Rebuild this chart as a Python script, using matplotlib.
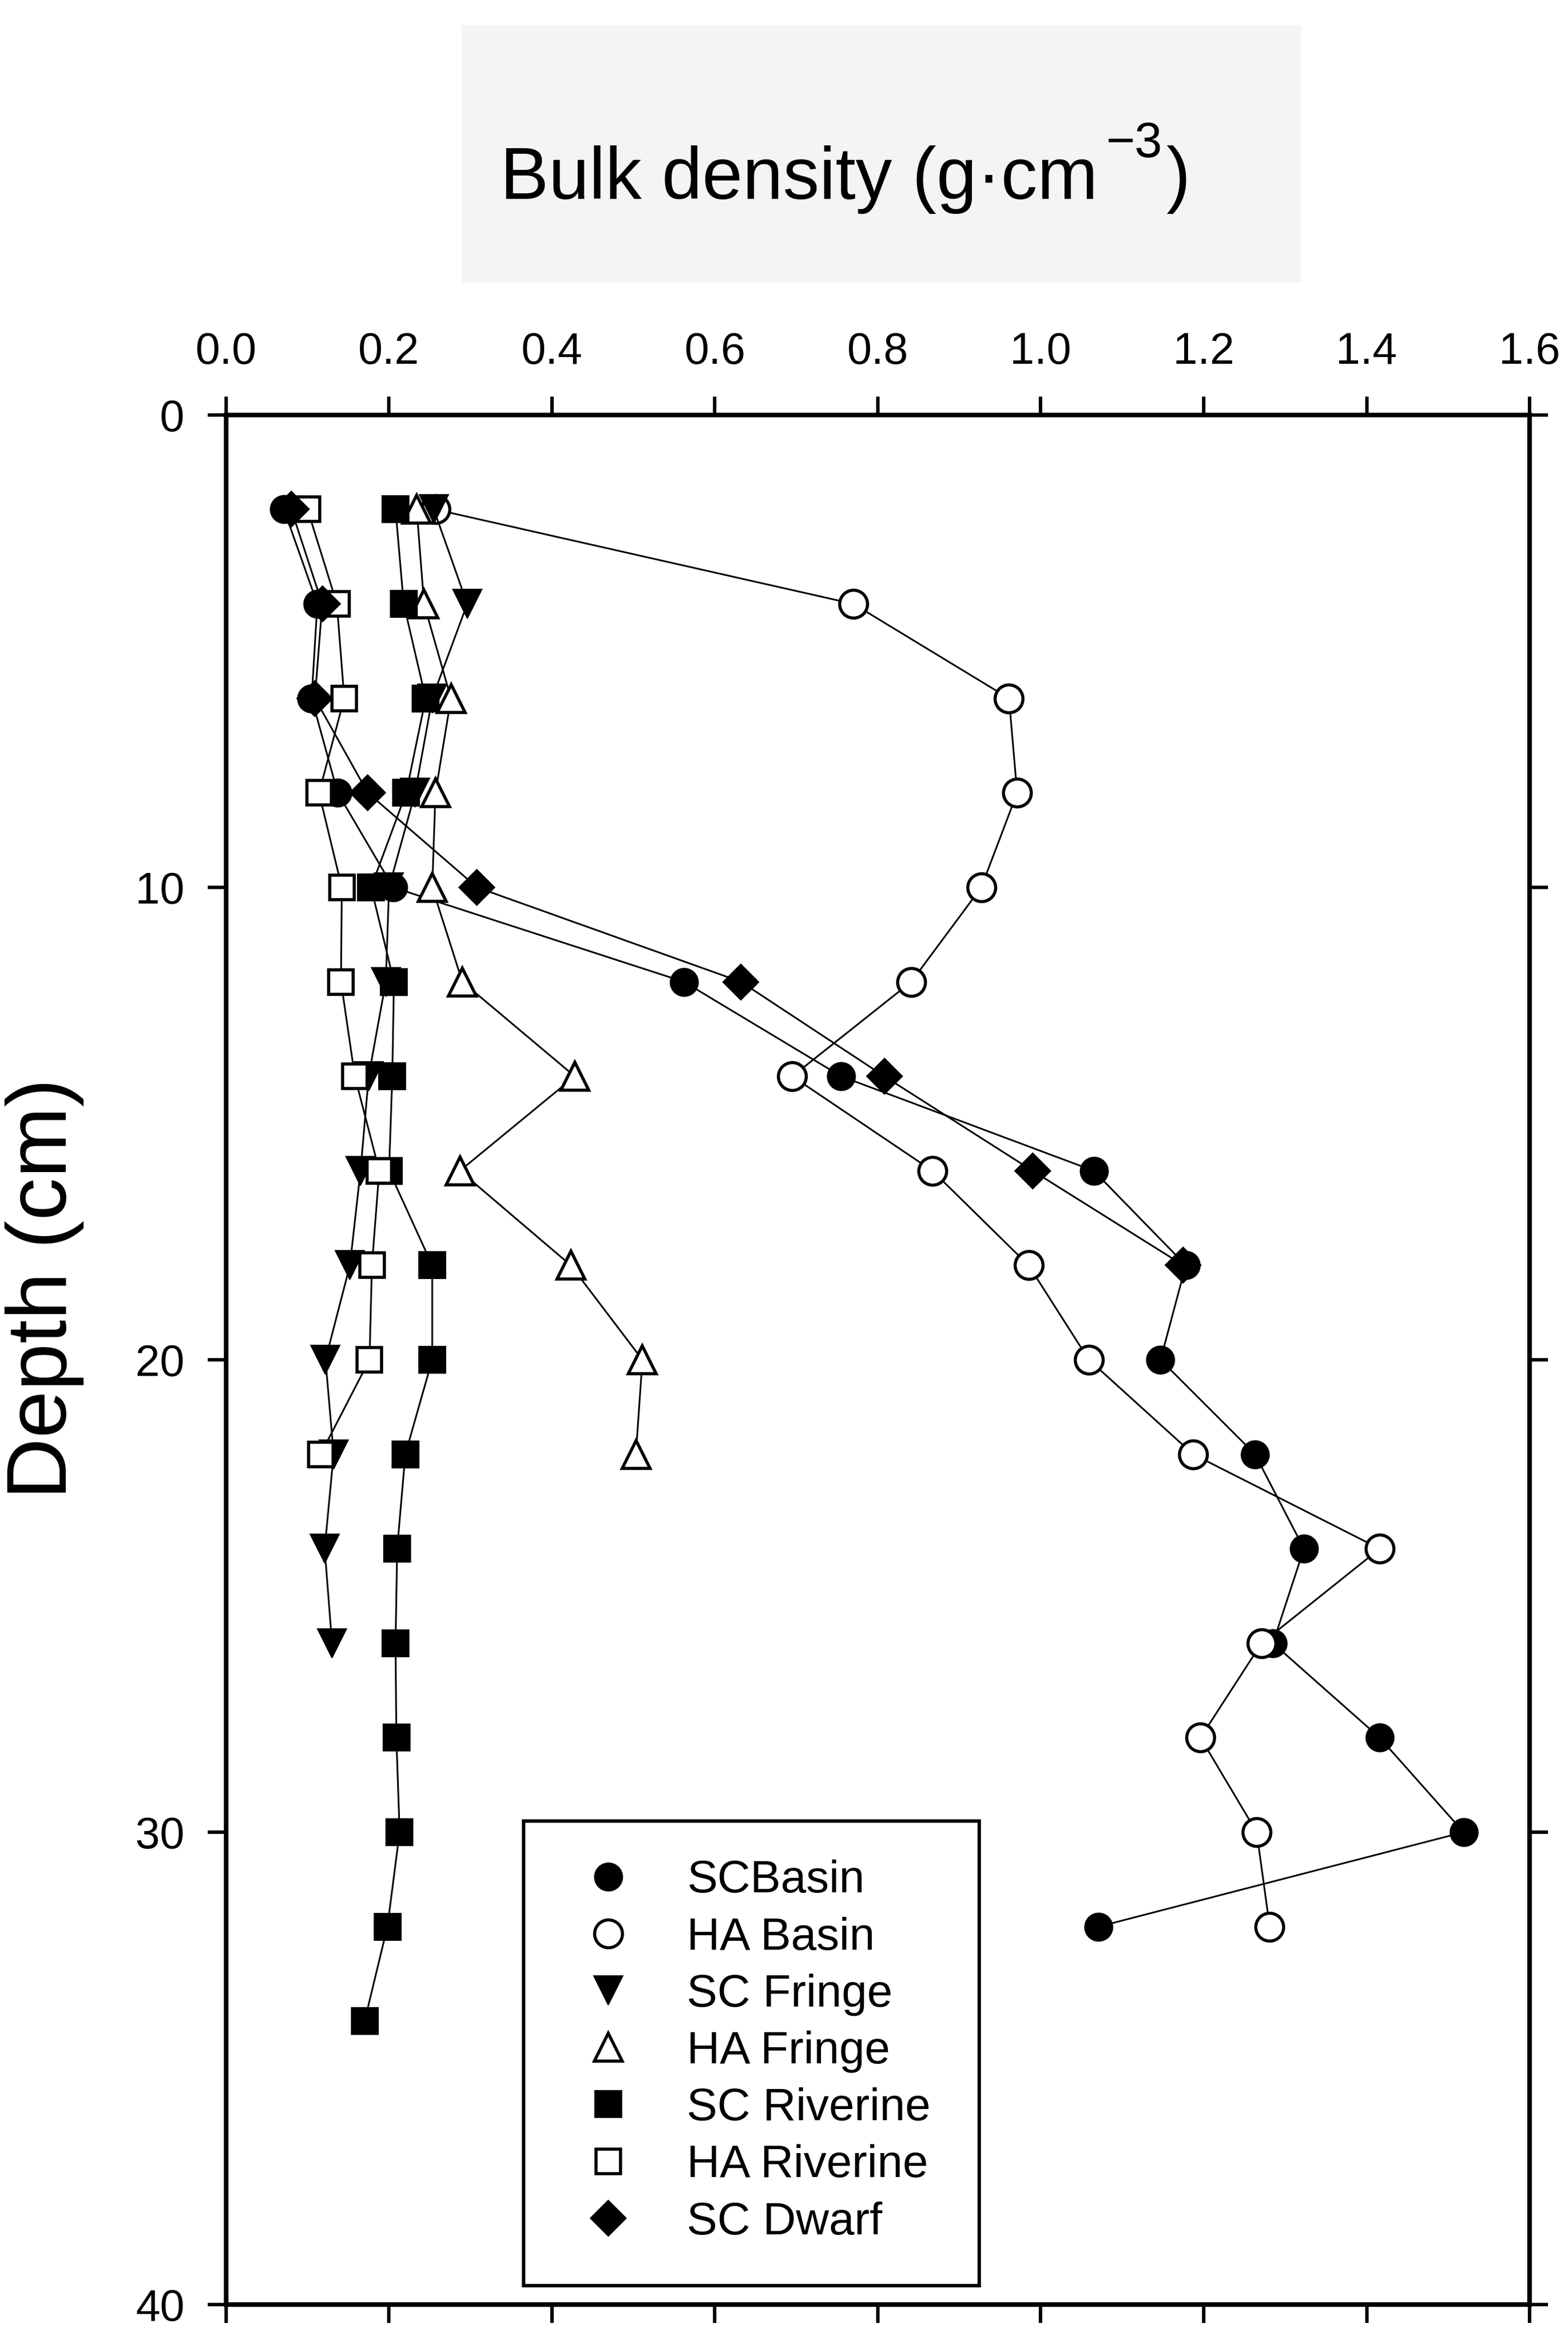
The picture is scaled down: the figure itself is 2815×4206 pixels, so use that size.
import matplotlib
matplotlib.use('Agg')
import matplotlib.pyplot as plt
from matplotlib.lines import Line2D
from matplotlib.patches import Rectangle

plt.rcParams['font.family'] = ['Liberation Sans', 'DejaVu Sans']

# depth of each sample (cm)
depth = [2, 4, 6, 8, 10, 12, 14, 16, 18, 20, 22, 24, 26, 28, 30, 32, 34]

# bulk density (g cm-3)
sc_basin = [0.071, 0.112, 0.105, 0.137, 0.205, 0.562, 0.755, 1.065, 1.178, 1.147,
            1.263, 1.323, 1.285, 1.416, 1.519, 1.071]
ha_basin = [0.257, 0.770, 0.961, 0.971, 0.927, 0.841, 0.695, 0.867, 0.985, 1.059,
            1.187, 1.416, 1.271, 1.196, 1.265, 1.281]
sc_fringe = [0.255, 0.296, 0.253, 0.232, 0.200, 0.196, 0.175, 0.165, 0.152, 0.122,
             0.132, 0.121, 0.130]
ha_fringe = [0.234, 0.243, 0.276, 0.257, 0.253, 0.290, 0.428, 0.287, 0.423, 0.511, 0.503]
sc_riverine = [0.208, 0.218, 0.245, 0.221, 0.178, 0.206, 0.204, 0.200, 0.253, 0.253,
               0.220, 0.210, 0.208, 0.209, 0.213, 0.198, 0.170]
ha_riverine = [0.100, 0.136, 0.145, 0.114, 0.142, 0.141, 0.158, 0.188, 0.179, 0.176, 0.116]
sc_dwarf = [0.080, 0.118, 0.109, 0.174, 0.308, 0.632, 0.808, 0.990, 1.175]

labels = ['SCBasin', 'HA Basin', 'SC Fringe', 'HA Fringe', 'SC Riverine', 'HA Riverine', 'SC Dwarf']
series = [sc_basin, ha_basin, sc_fringe, ha_fringe, sc_riverine, ha_riverine, sc_dwarf]
markers = ['o', 'o', 'v', '^', 's', 's', 'D']
faces = ['black', 'white', 'black', 'white', 'black', 'white', 'black']
sizes = [36, 36, 38, 36, 34, 32, 33]

fig = plt.figure(figsize=(28.15, 42.06), dpi=100)
ax = fig.add_axes([0.1442, 0.0164, 0.8313, 0.8065])

handles = []
for vals, lab, mk, fc, ms in zip(series, labels, markers, faces, sizes):
    mew = 4.0 if fc == 'white' else 1.5
    ax.plot(vals, depth[:len(vals)], color='black', lw=2.2, marker=mk, ms=ms,
            mfc=fc, mec='black', mew=mew)
    handles.append(Line2D([], [], ls='none', marker=mk, ms=ms, mfc=fc, mec='black', mew=mew))

ax.set_xlim(0, 1.6)
ax.set_ylim(40, 0)
xt = [0.0, 0.2, 0.4, 0.6, 0.8, 1.0, 1.2, 1.4, 1.6]
ax.set_xticks(xt)
ax.set_xticklabels(['%.1f' % v for v in xt])
ax.set_yticks([0, 10, 20, 30, 40])
ax.tick_params(axis='x', top=True, bottom=True, labeltop=True, labelbottom=False,
               direction='out', length=24, width=4.5, pad=30, labelsize=57)
ax.tick_params(axis='y', left=True, right=True, labelleft=True, labelright=False,
               direction='out', length=24, width=4.5, pad=30, labelsize=57)
for sp in ax.spines.values():
    sp.set_linewidth(6)

# legend box is taller than its entries (empty space at the bottom), so draw the frame by hand
ax.add_patch(Rectangle((0.2282, 0.010), 0.3496, 0.246, transform=ax.transAxes,
                       facecolor='white', edgecolor='black', lw=4.5, zorder=4))
leg = ax.legend(handles, labels, loc='upper left', bbox_to_anchor=(0.2282, 0.256),
                fontsize=59, frameon=False, borderpad=0.85, labelspacing=0.32,
                handlelength=2.02, handletextpad=0.71, borderaxespad=0)
leg.set_zorder(5)

fig.text(0.0285, 0.450, 'Depth (cm)', rotation=90, fontsize=110, ha='center', va='center')

# title in a grey box above the plot
fig.patches.append(Rectangle((0.2945, 0.8795), 0.5355, 0.1098, transform=fig.transFigure,
                             facecolor='#f4f4f4', edgecolor='none', zorder=0))
r = fig.canvas.get_renderer()
W = fig.bbox.width
base_y = 1 - 357 / 4206
t1 = fig.text(898 / W, base_y, 'Bulk density (g\u00b7cm', fontsize=94, ha='left', va='baseline')
bb = t1.get_window_extent(r)
t2 = fig.text((bb.x1 + 15) / W, 1 - 282 / 4206, '\u22123', fontsize=64, ha='left', va='baseline')
bb2 = t2.get_window_extent(r)
fig.text((bb2.x1 + 6) / W, base_y, ')', fontsize=94, ha='left', va='baseline')

fig.savefig('out.png', dpi=100)
